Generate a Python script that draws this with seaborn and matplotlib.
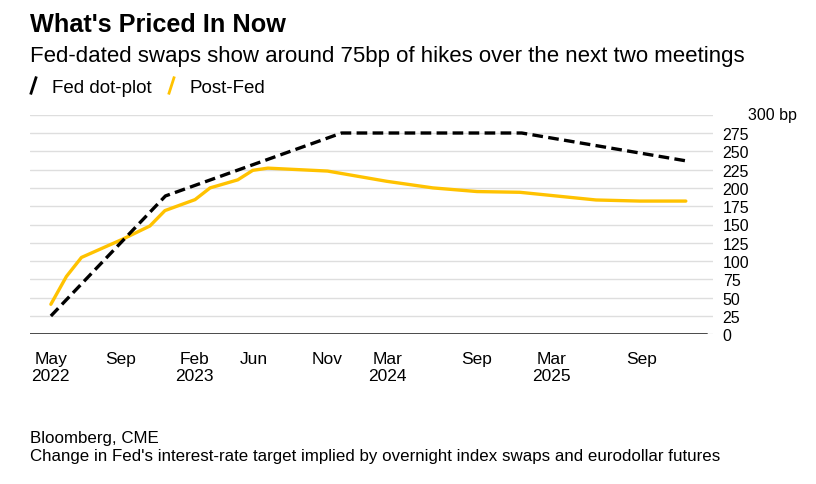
import matplotlib
matplotlib.use("Agg")
import matplotlib.pyplot as plt
from matplotlib.lines import Line2D
from matplotlib.path import Path
import pandas as pd
import seaborn as sns

# Fed dot-plot path (bp of hikes)
dot_dates = ["2022-05-04", "2022-12-26", "2023-12-24", "2024-12-29", "2025-12-02"]
dot_bp = [25, 189, 275, 275, 237]

# Post-Fed pricing (bp of hikes)
post_dates = ["2022-05-04", "2022-06-05", "2022-07-06", "2022-09-29", "2022-11-24",
              "2022-12-25", "2023-02-25", "2023-03-28", "2023-05-24", "2023-06-24",
              "2023-07-25", "2023-11-25", "2024-03-26", "2024-06-29", "2024-09-28",
              "2024-12-25", "2025-05-31", "2025-08-29", "2025-12-02"]
post_bp = [41, 79, 105, 130, 148, 169, 184, 200, 211, 224,
           227, 223, 209, 200, 195, 194, 183.5, 182, 182]

tick_dates = ["2022-05-04", "2022-09-25", "2023-02-24", "2023-06-26", "2023-11-25",
              "2024-03-28", "2024-09-27", "2025-03-01", "2025-09-01"]
tick_labels = ["May\n2022", "Sep", "Feb\n2023", "Jun", "Nov", "Mar\n2024", "Sep",
               "Mar\n2025", "Sep"]
y_ticks = list(range(0, 301, 25))

dot = pd.DataFrame({"date": pd.to_datetime(dot_dates), "bp": dot_bp})
post = pd.DataFrame({"date": pd.to_datetime(post_dates), "bp": post_bp})

sns.set_style("white")
plt.rcParams["font.family"] = ["Liberation Sans", "DejaVu Sans"]
plt.rcParams["text.color"] = "black"

YELLOW = "#FFC200"

fig = plt.figure(figsize=(8.16, 4.85), dpi=100)
ax = fig.add_axes([30 / 816, (485 - 335.3) / 485, 683 / 816, 219.6 / 485])

sns.lineplot(data=post, x="date", y="bp", color=YELLOW, linewidth=2.4,
             legend=False, ax=ax)
sns.lineplot(data=dot, x="date", y="bp", color="black", linewidth=2.4,
             linestyle=(0, (3.2, 1.6)), legend=False, ax=ax)

ax.set_xlim(pd.Timestamp("2022-03-22"), pd.Timestamp("2026-01-27"))
ax.set_ylim(0, 300)
for s in ax.spines.values():
    s.set_visible(False)

ax.set_yticks(y_ticks)
ax.set_yticklabels([str(v) for v in y_ticks[:-1]] + [""])
ax.yaxis.tick_right()
ax.grid(axis="y", color="#dedede", linewidth=1)
ax.grid(axis="x", visible=False)
ax.set_axisbelow(True)
ax.axhline(0, xmin=0, xmax=677 / 683, color="#4a4a4a", linewidth=1.4, zorder=1)
ax.tick_params(axis="y", length=0, pad=7, labelsize=11.5, labelcolor="black")
ax.annotate("300 bp", xy=(1, 300), xycoords=("axes fraction", "data"),
            xytext=(25, 0), textcoords="offset points", ha="left", va="center",
            fontsize=11.5)

ax.set_xticks(pd.to_datetime(tick_dates))
ax.set_xticklabels(tick_labels)
ax.tick_params(axis="x", length=6, width=1.2, color="#4a4a4a", pad=6,
               labelsize=12.5, labelcolor="black")
ax.set_xlabel("")
ax.set_ylabel("")

fig.text(30 / 816, 1 - 32 / 485, "What's Priced In Now", fontsize=18.2,
         fontweight="bold", va="baseline", ha="left")
fig.text(30 / 816, 1 - 62 / 485,
         "Fed-dated swaps show around 75bp of hikes over the next two meetings",
         fontsize=16, va="baseline", ha="left")

slash = Path([(-0.32, -1), (0.32, 1)])
handles = [Line2D([], [], color="black", marker=slash, linestyle="none",
                  markersize=13, markeredgewidth=2.0),
           Line2D([], [], color=YELLOW, marker=slash, linestyle="none",
                  markersize=13, markeredgewidth=2.0)]
fig.legend(handles, ["Fed dot-plot", "Post-Fed"], loc="center left",
           bbox_to_anchor=(24 / 816, 1 - 88 / 485), ncol=2, frameon=False,
           fontsize=13.5, handlelength=1.0, handletextpad=0.5,
           columnspacing=0.5, borderpad=0, borderaxespad=0)

fig.text(30 / 816, 1 - 443 / 485, "Bloomberg, CME", fontsize=12.2,
         va="baseline", ha="left")
fig.text(30 / 816, 1 - 461 / 485,
         "Change in Fed's interest-rate target implied by overnight index swaps and eurodollar futures",
         fontsize=12.2, va="baseline", ha="left")

fig.savefig("out.png", dpi=100)
